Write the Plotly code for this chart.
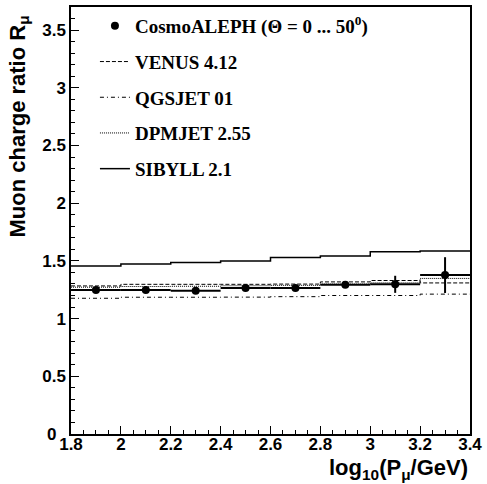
import plotly.graph_objects as go

# ---- data ----
bin_edges = [1.8, 2.0, 2.2, 2.4, 2.6, 2.8, 3.0, 3.2, 3.4]
data_x = [1.9, 2.1, 2.3, 2.5, 2.7, 2.9, 3.1, 3.3]
data_y = [1.248, 1.248, 1.242, 1.266, 1.266, 1.294, 1.297, 1.377]
data_err = [0.015, 0.015, 0.015, 0.018, 0.02, 0.025, 0.074, 0.155]
data_xerr = [0.1] * 8

venus = [1.283, 1.297, 1.297, 1.297, 1.299, 1.318, 1.330, 1.309]
qgsjet = [1.176, 1.185, 1.185, 1.186, 1.19, 1.20, 1.20, 1.212]
dpmjet = [1.272, 1.278, 1.280, 1.285, 1.288, 1.300, 1.310, 1.348]
sibyll = [1.455, 1.472, 1.486, 1.50, 1.529, 1.543, 1.58, 1.586]

y_tick_vals = [0, 0.5, 1, 1.5, 2, 2.5, 3, 3.5]
y_tick_text = ["0\u00a0\u00a0", "0.5", "1", "1.5", "2", "2.5", "3", "3.5"]

names = ["VENUS 4.12", "QGSJET 01", "DPMJET 2.55", "SIBYLL 2.1"]
dashes = ["4px,2px", "4px,3px,1px,3px", "1px,1px", "solid"]
widths = [1, 1, 1, 1.5]

fig = go.Figure()

for i, (nm, vals) in enumerate(zip(names, [venus, qgsjet, dpmjet, sibyll])):
    fig.add_trace(go.Scatter(
        x=bin_edges, y=vals + [vals[-1]], mode="lines", line_shape="hv",
        line=dict(color="black", width=widths[i], dash=dashes[i]),
        name=nm, legendrank=i + 2, legendgroup=nm,
    ))

fig.add_trace(go.Scatter(
    x=data_x, y=data_y, mode="markers",
    marker=dict(color="black", size=8),
    error_x=dict(type="data", array=data_xerr, width=0, thickness=2, color="black"),
    error_y=dict(type="data", array=data_err, width=0, thickness=2, color="black"),
    name="CosmoALEPH (Θ = 0 ... 50<sup>0</sup>)", legendrank=1, legendgroup="data",
))

axis_font = dict(family="Liberation Sans", size=17, color="black", weight="bold")

fig.update_layout(
    width=487, height=484,
    margin=dict(l=71, r=13, t=5, b=50),
    plot_bgcolor="white", paper_bgcolor="white",
    showlegend=True,
    legend=dict(
        x=0.06, y=1.0, xanchor="left", yanchor="top",
        bgcolor="rgba(0,0,0,0)", borderwidth=0,
        font=dict(family="Liberation Serif", size=19, color="black", weight="bold"),
        tracegroupgap=8, traceorder="grouped", itemwidth=30,
    ),
    xaxis=dict(
        range=[1.8, 3.4], dtick=0.2, tick0=1.8, showgrid=False, zeroline=False,
        showline=True, linewidth=1.5, linecolor="black", mirror=True,
        ticks="inside", ticklen=8, tickwidth=1, tickcolor="black",
        minor=dict(dtick=0.05, ticks="inside", ticklen=4, tickcolor="black", showgrid=False),
        tickfont=axis_font, tickformat="~g", ticklabelstandoff=-6,
    ),
    yaxis=dict(
        range=[0, 3.7], tickmode="array", tickvals=y_tick_vals, ticktext=y_tick_text,
        showgrid=False, zeroline=False,
        showline=True, linewidth=1.5, linecolor="black", mirror=True,
        ticks="inside", ticklen=8, tickwidth=1, tickcolor="black",
        minor=dict(dtick=0.1, tick0=0, ticks="inside", ticklen=4, tickcolor="black", showgrid=False),
        tickfont=axis_font,
    ),
    annotations=[
        dict(text="log<sub>10</sub>(P<sub>μ</sub>/GeV)", xref="paper", yref="paper",
             x=1.0, y=-0.12, xanchor="right", yanchor="bottom", showarrow=False,
             font=dict(family="Liberation Sans", size=22, color="black", weight="bold")),
        dict(text="Muon charge ratio R<sub>μ</sub>", xref="paper", yref="paper",
             x=-0.13, y=0.985, xanchor="center", yanchor="top", textangle=-90, showarrow=False,
             font=dict(family="Liberation Sans", size=22, color="black", weight="bold")),
    ],
)

fig.write_html("out.html", post_script="document.body.style.margin='0px';",
               config={"displayModeBar": False})
